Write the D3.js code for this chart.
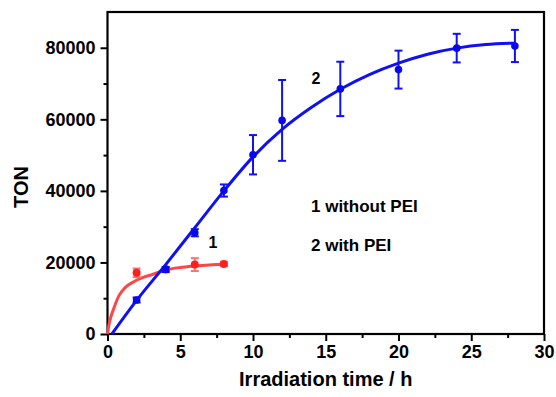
<!DOCTYPE html>
<html>
<head>
<meta charset="utf-8">
<script src="https://cdn.jsdelivr.net/npm/d3@7"></script>
<style>
  body { margin: 0; background: #fff; }
  text { font-family: "Liberation Sans", Arial, sans-serif; font-weight: bold; }
</style>
</head>
<body>
<div id="chart"></div>
<script>
// measured points (with PEI = series 2, without PEI = series 1)
var timeWith = [2, 4, 6, 8, 10, 12, 16, 20, 24, 28];
var tonWith = [9500, 18000, 28300, 40100, 50100, 59700, 68500, 73900, 79900, 80500];
var errWith = [700, 700, 1000, 1700, 5500, 11300, 7600, 5300, 4000, 4500];

var timeWithout = [2, 4, 6, 8];
var tonWithout = [17100, 18200, 19400, 19600];
var errWithout = [1200, 500, 1800, 600];

// fitted curves
var fitTimeWith = [0.3, 2, 4, 6, 8, 10, 12, 14, 16, 18, 20, 22, 24, 26, 28];
var fitTonWith = [0, 9400, 19400, 29700, 40000, 49500, 57200, 63300, 68400, 72500, 75700, 78200, 79900, 80900, 81300];
var fitTimeWithout = [0, 0.1, 0.2, 0.4, 0.8, 1.2, 1.8, 2.5, 3, 4, 5, 6, 7, 8, 8.2];
var fitTonWithout = [0, 2600, 4300, 6800, 10800, 12900, 14600, 15900, 16500, 17900, 18600, 19000, 19300, 19500, 19550];

var xTicks = [0, 5, 10, 15, 20, 25, 30];
var yTicks = [0, 20000, 40000, 60000, 80000];

var width = 556, height = 397;
var margin = {left: 107.5, right: 12, top: 12, bottom: 63};

var svg = d3.select("#chart").append("svg")
    .attr("width", width).attr("height", height);

var x = d3.scaleLinear().domain([0, 30]).range([margin.left, width - margin.right]);
var y = d3.scaleLinear().domain([0, 90000]).range([height - margin.bottom, margin.top]);

//minor ticks first, then the major axes on top
svg.append("g")
    .attr("transform", "translate(0," + y(0) + ")")
    .call(d3.axisBottom(x).tickValues(d3.range(2.5, 30, 5)).tickSize(4).tickFormat(""))
    .call(g => g.select(".domain").remove())
    .selectAll("line").attr("stroke-width", 2);
svg.append("g")
    .attr("transform", "translate(" + x(0) + ",0)")
    .call(d3.axisLeft(y).tickValues(d3.range(10000, 90000, 20000)).tickSize(4).tickFormat(""))
    .call(g => g.select(".domain").remove())
    .selectAll("line").attr("stroke-width", 2);

var xAxis = svg.append("g")
    .attr("transform", "translate(0," + y(0) + ")")
    .call(d3.axisBottom(x).tickValues(xTicks).tickSize(7).tickPadding(4).tickFormat(d3.format("d")));
xAxis.select(".domain").remove();
xAxis.selectAll("line").attr("stroke-width", 2);
xAxis.selectAll("text").attr("font-size", 18).attr("fill", "#000");

var yAxis = svg.append("g")
    .attr("transform", "translate(" + x(0) + ",0)")
    .call(d3.axisLeft(y).tickValues(yTicks).tickSize(7).tickPadding(5).tickFormat(d3.format("d")));
yAxis.select(".domain").remove();
yAxis.selectAll("line").attr("stroke-width", 2);
yAxis.selectAll("text").attr("font-size", 18).attr("fill", "#000");

//frame round the plot
svg.append("rect")
    .attr("x", x(0)).attr("y", y(90000))
    .attr("width", x(30) - x(0)).attr("height", y(0) - y(90000))
    .attr("fill", "none").attr("stroke", "#000").attr("stroke-width", 2.2);

//axis titles
svg.append("text")
    .attr("x", (x(0) + x(30)) / 2).attr("y", 386)
    .attr("text-anchor", "middle").attr("font-size", 20)
    .text("Irradiation time / h");
svg.append("text")
    .attr("transform", "translate(28,187) rotate(-90)")
    .attr("text-anchor", "middle").attr("font-size", 20)
    .text("TON");

var line = d3.line().curve(d3.curveMonotoneX)
    .x(d => x(d[0])).y(d => y(d[1]));

function drawSeries(times, tons, errs, fitT, fitV, lineColor, dotColor, errColor, r) {
    var g = svg.append("g");
    g.append("path")
        .datum(d3.zip(fitT, fitV))
        .attr("d", line)
        .attr("fill", "none").attr("stroke", lineColor).attr("stroke-width", 3);
    var pts = d3.zip(times, tons, errs);
    var eb = g.selectAll(".eb").data(pts).enter().append("g")
        .attr("stroke", errColor).attr("stroke-width", 2);
    eb.append("line")
        .attr("x1", d => x(d[0])).attr("x2", d => x(d[0]))
        .attr("y1", d => y(d[1] - d[2])).attr("y2", d => y(d[1] + d[2]));
    eb.append("line")
        .attr("x1", d => x(d[0]) - 4).attr("x2", d => x(d[0]) + 4)
        .attr("y1", d => y(d[1] + d[2])).attr("y2", d => y(d[1] + d[2]));
    eb.append("line")
        .attr("x1", d => x(d[0]) - 4).attr("x2", d => x(d[0]) + 4)
        .attr("y1", d => y(d[1] - d[2])).attr("y2", d => y(d[1] - d[2]));
    g.selectAll("circle").data(pts).enter().append("circle")
        .attr("cx", d => x(d[0])).attr("cy", d => y(d[1]))
        .attr("r", r).attr("fill", dotColor);
}

drawSeries(timeWithout, tonWithout, errWithout, fitTimeWithout, fitTonWithout,
    "#ff4545", "#ff1f1f", "#ff7070", 4);
drawSeries(timeWith, tonWith, errWith, fitTimeWith, fitTonWith,
    "#1010f5", "#0808e8", "#1010f5", 3.8);

//series labels and legend text
svg.append("text").attr("x", 213).attr("y", 248).attr("text-anchor", "middle")
    .attr("font-size", 16).text("1");
svg.append("text").attr("x", 316).attr("y", 83.5).attr("text-anchor", "middle")
    .attr("font-size", 16).text("2");
svg.append("text").attr("x", 311).attr("y", 212).attr("font-size", 17).text("1 without PEI");
svg.append("text").attr("x", 311).attr("y", 251).attr("font-size", 17).text("2 with PEI");
</script>
</body>
</html>
